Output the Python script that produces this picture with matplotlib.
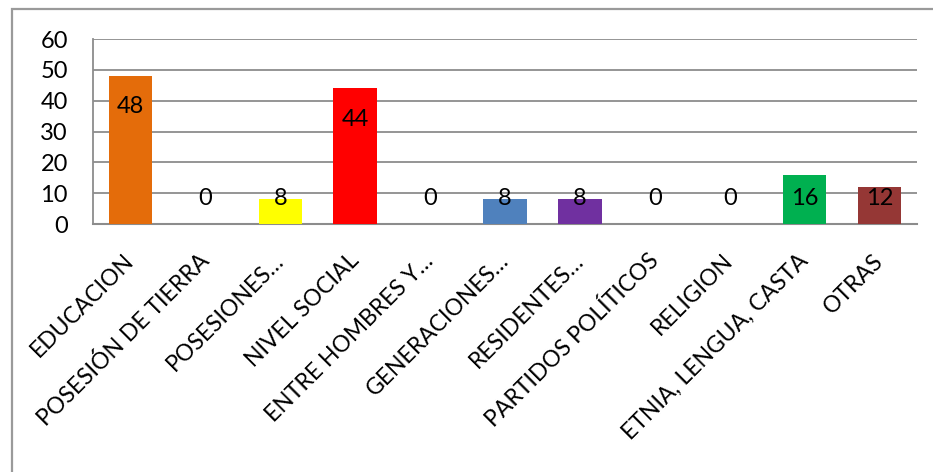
import numpy as np
import matplotlib.pyplot as plt
from matplotlib.patches import Rectangle

categorias = ['EDUCACION', 'POSESIÓN DE TIERRA', 'POSESIONES…', 'NIVEL SOCIAL',
              'ENTRE HOMBRES Y…', 'GENERACIONES…', 'RESIDENTES…',
              'PARTIDOS POLÍTICOS', 'RELIGION', 'ETNIA, LENGUA, CASTA', 'OTRAS']
valores = [48, 0, 8, 44, 0, 8, 8, 0, 0, 16, 12]
colores = ['#E46C0A', '#FFFFFF', '#FFFF00', '#FF0000', '#FFFFFF', '#4F81BD',
           '#7030A0', '#FFFFFF', '#FFFFFF', '#00B050', '#953735']

plt.rcParams['font.family'] = ['Lato', 'DejaVu Sans']

fig = plt.figure(figsize=(9.33, 4.72), dpi=100)
ax = fig.add_axes([93 / 933, 1 - 224 / 472, 824 / 933, 185 / 472])

# marco exterior del gráfico
fig.patches.append(Rectangle((12 / 933, -0.1), 1.2, 1 - 9 / 472 + 0.1,
                             transform=fig.transFigure, fill=False,
                             edgecolor='#9a9a9a', linewidth=1.6, zorder=0))

x = np.arange(len(categorias))
ax.bar(x, valores, width=0.58, color=colores, zorder=3)

for xi, v in zip(x, valores):
    ax.text(xi, max(v - 10, 8.3), str(v), ha='center', va='center',
            fontsize=17, color='black', zorder=4)

ax.set_xlim(-0.5, len(categorias) - 0.5)
ax.set_ylim(0, 60)
ax.set_yticks(range(0, 61, 10))
ax.yaxis.grid(True, color='#8c8c8c', linewidth=1.3, zorder=0)
ax.set_axisbelow(True)

for lado in ['top', 'right']:
    ax.spines[lado].set_visible(False)
ax.spines['left'].set_color('#8c8c8c')
ax.spines['left'].set_linewidth(1.3)
ax.spines['bottom'].set_color('#8c8c8c')
ax.spines['bottom'].set_linewidth(1.5)

ax.tick_params(axis='y', length=0, pad=18, labelsize=17)
ax.tick_params(axis='x', length=0, pad=24, labelsize=16.5)
ax.set_xticks(x)
ax.set_xticklabels(categorias, rotation=45, ha='right', va='center',
                   rotation_mode='anchor')
for lbl in ax.get_yticklabels():
    lbl.set_horizontalalignment('right')

fig.savefig('out.png', dpi=100)
